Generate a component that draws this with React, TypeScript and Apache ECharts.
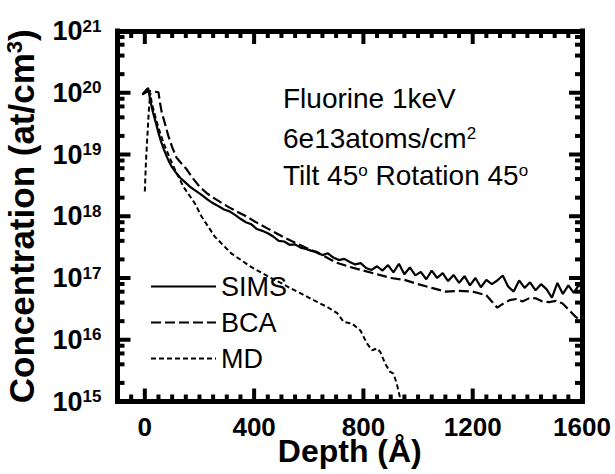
import React, { useEffect, useRef } from 'react';
import * as echarts from 'echarts';

const FONT = '"Liberation Sans", Arial, Helvetica, sans-serif';

const X_MIN = -100;
const X_MAX = 1600;
const Y_MIN = 1e15;
const Y_MAX = 1e21;

const xMajorTicks = [0, 400, 800, 1200, 1600];
const xMinorTicks = [-50, 50, 100, 150, 200, 250, 300, 350, 450, 500, 550, 600, 650, 700, 750, 850, 900, 950, 1000, 1050, 1100, 1150, 1250, 1300, 1350, 1400, 1450, 1500, 1550];
const yMajorTicks = [1e15, 1e16, 1e17, 1e18, 1e19, 1e20, 1e21];
const yMinorTicks = [
  2e15, 4e15, 6e15, 8e15, 2e16, 4e16, 6e16, 8e16, 2e17, 4e17, 6e17, 8e17,
  2e18, 4e18, 6e18, 8e18, 2e19, 4e19, 6e19, 8e19, 2e20, 4e20, 6e20, 8e20,
];

const simsDepth = [-8, 12, 20, 30, 40, 50, 60, 70, 80, 90, 100, 115, 130, 150, 165, 180, 200, 215, 230, 250, 270, 290, 310, 330, 350, 370, 390, 410, 430, 450, 470, 490, 510, 530, 550, 570, 590, 610, 630, 650, 670, 690, 710, 730, 750, 770, 790, 810, 830, 850, 870, 890, 910, 930, 950, 970, 990, 1010, 1030, 1050, 1070, 1090, 1110, 1130, 1150, 1170, 1190, 1210, 1230, 1250, 1270, 1290, 1310, 1330, 1350, 1370, 1390, 1410, 1430, 1450, 1470, 1490, 1510, 1530, 1550, 1570, 1590, 1600];
const simsConc = [9.55e19, 1.2e20, 7.41e19, 4.79e19, 3.31e19, 2.24e19, 1.58e19, 1.2e19, 9.33e18, 7.41e18, 6.17e18, 5.01e18, 4.17e18, 3.47e18, 3.02e18, 2.69e18, 2.34e18, 2.09e18, 1.86e18, 1.62e18, 1.45e18, 1.29e18, 1.2e18, 1.05e18, 9.1e17, 8.0e17, 7.4e17, 6.2e17, 5.8e17, 5.3e17, 4.7e17, 4.0e17, 3.9e17, 3.45e17, 3.5e17, 3.1e17, 2.95e17, 2.75e17, 2.65e17, 2.35e17, 2.51e17, 2.14e17, 1.95e17, 2.04e17, 1.82e17, 1.66e17, 1.74e17, 1.45e17, 1.35e17, 1.55e17, 1.32e17, 1.62e17, 1.23e17, 1.7e17, 1.15e17, 1.48e17, 1.1e17, 1.26e17, 9.55e16, 1.32e17, 1.0e17, 1.2e17, 8.91e16, 1.12e17, 8.32e16, 1.07e17, 7.59e16, 1.0e17, 7.08e16, 9.33e16, 7.94e16, 9.12e16, 1.1e17, 7.24e16, 6.03e16, 9.12e16, 6.92e16, 8.51e16, 6.31e16, 7.94e16, 6.61e16, 4.79e16, 8.32e16, 5.5e16, 7.59e16, 5.75e16, 7.94e16, 6.61e16];

const bcaDepth = [-10, 13, 50, 55, 62, 75, 86, 100, 116, 135, 153, 175, 200, 225, 250, 280, 310, 340, 371, 400, 450, 500, 550, 600, 650, 700, 750, 800, 850, 900, 950, 1000, 1050, 1100, 1150, 1200, 1250, 1270, 1290, 1310, 1335, 1360, 1382, 1410, 1431, 1455, 1480, 1505, 1528, 1553, 1577, 1600];
const bcaConc = [9.33e19, 1.07e20, 1.02e20, 7.08e19, 4.79e19, 3.02e19, 2.0e19, 1.32e19, 8.91e18, 7.08e18, 5.75e18, 4.17e18, 3.02e18, 2.4e18, 2.0e18, 1.66e18, 1.38e18, 1.17e18, 1.0e18, 8.32e17, 6.31e17, 4.79e17, 3.72e17, 2.95e17, 2.34e17, 1.78e17, 1.51e17, 1.32e17, 1.15e17, 1.0e17, 9.33e16, 7.94e16, 6.92e16, 6.03e16, 6.17e16, 6.03e16, 5.25e16, 4.17e16, 3.31e16, 3.8e16, 4.37e16, 4.57e16, 4.17e16, 4.79e16, 4.68e16, 4.17e16, 4.07e16, 4.27e16, 3.89e16, 3.02e16, 2.34e16, 2.0e16];

const mdDepth = [0, 4, 10, 15, 20, 25, 44, 68, 104, 141, 183, 207, 256, 316, 389, 462, 498, 535, 571, 618, 668, 704, 728, 759, 789, 813, 832, 850, 862, 880, 898, 910, 922, 932, 940];
const mdConc = [2.51e18, 7.41e18, 2.24e19, 5.37e19, 1.0e20, 6.92e19, 3.31e19, 1.55e19, 6.46e18, 3.02e18, 1.62e18, 1.0e18, 4.68e17, 2.51e17, 1.51e17, 1.0e17, 8.32e16, 6.76e16, 5.62e16, 4.37e16, 3.39e16, 2.69e16, 1.95e16, 1.82e16, 1.41e16, 8.71e15, 6.76e15, 7.24e15, 6.31e15, 4.07e15, 3.02e15, 2.82e15, 1.95e15, 1.26e15, 7.94e14];

const zip = (xs: number[], ys: number[]) => xs.map((x, i) => [x, ys[i]]);

const TICK_STYLE = { stroke: '#000', lineWidth: 4 };

export default function App() {
  const ref = useRef<HTMLDivElement>(null);
  useEffect(() => {
    if (!ref.current) return;
    const chart = echarts.init(ref.current, null, { renderer: 'svg' });
    // each item: [x, y, side, length]; side 0 bottom, 1 top, 2 left, 3 right
    const tickData: number[][] = [];
    xMajorTicks.forEach((v) => { tickData.push([v, Y_MIN, 0, 13]); tickData.push([v, Y_MAX, 1, 13]); });
    xMinorTicks.forEach((v) => { tickData.push([v, Y_MIN, 0, 7]); tickData.push([v, Y_MAX, 1, 7]); });
    yMajorTicks.forEach((v) => { tickData.push([X_MIN, v, 2, 13]); tickData.push([X_MAX, v, 3, 13]); });
    yMinorTicks.forEach((v) => { tickData.push([X_MIN, v, 2, 7]); tickData.push([X_MAX, v, 3, 7]); });

    const frameLine = { show: true, onZero: false, lineStyle: { color: '#000', width: 5, cap: 'square' } };
    const noLabel = { show: false };
    const rich = (main: number, sup: number) => ({
      n: { fontFamily: FONT, fontSize: main, lineHeight: main, fill: '#000', verticalAlign: 'bottom' },
      s: { fontFamily: FONT, fontSize: sup, lineHeight: sup, fill: '#000', verticalAlign: 'top' },
    });
    chart.setOption({
      animation: false,
      backgroundColor: '#fff',
      grid: {
        left: 117.5,
        right: 33,
        top: 31,
        bottom: 72.5,
        containLabel: false,
        outerBoundsMode: 'none',
      },
      xAxis: [
        {
          type: 'value',
          min: X_MIN,
          max: X_MAX,
          interval: 100,
          position: 'bottom',
          axisLine: frameLine,
          axisTick: { show: false },
          splitLine: { show: false },
          axisLabel: {
            margin: 12,
            color: '#000',
            fontFamily: FONT,
            fontWeight: 'bold',
            fontSize: 26,
            formatter: (v: number) => (xMajorTicks.includes(v) ? String(v) : ''),
          },
          name: 'Depth (Å)',
          nameLocation: 'middle',
          nameGap: 33,
          nameMoveOverlap: false,
          nameTextStyle: { color: '#000', fontFamily: FONT, fontWeight: 'bold', fontSize: 32, lineHeight: 32 },
        },
        {
          type: 'value',
          min: X_MIN,
          max: X_MAX,
          interval: 100,
          position: 'top',
          axisLine: frameLine,
          axisTick: { show: false },
          splitLine: { show: false },
          axisLabel: noLabel,
        },
      ],
      yAxis: [
        {
          type: 'log',
          logBase: 10,
          min: Y_MIN,
          max: Y_MAX,
          splitNumber: 6,
          position: 'left',
          axisLine: frameLine,
          axisTick: { show: false },
          splitLine: { show: false },
          minorTick: { show: false },
          axisLabel: {
            margin: 16,
            formatter: (v: number) => `{b|10}{s|${Math.round(Math.log10(v))}}`,
            rich: {
              b: { fontFamily: FONT, fontWeight: 'bold', fontSize: 27, lineHeight: 27, color: '#000', verticalAlign: 'bottom' },
              s: { fontFamily: FONT, fontWeight: 'bold', fontSize: 17, lineHeight: 17, color: '#000', verticalAlign: 'top', padding: [0, 0, 15, 0] },
            },
          },
          name: '{a|Concentration (at/cm}{s|3}{a|)}',
          nameLocation: 'middle',
          nameGap: 70,
          nameTextStyle: {
            rich: {
              a: { fontFamily: FONT, fontWeight: 'bold', fontSize: 35, lineHeight: 35, color: '#000', verticalAlign: 'bottom' },
              s: { fontFamily: FONT, fontWeight: 'bold', fontSize: 22, lineHeight: 22, color: '#000', verticalAlign: 'top', padding: [0, 0, 16, 0] },
            },
          },
        },
        {
          type: 'log',
          logBase: 10,
          min: Y_MIN,
          max: Y_MAX,
          splitNumber: 6,
          position: 'right',
          axisLine: frameLine,
          axisTick: { show: false },
          splitLine: { show: false },
          minorTick: { show: false },
          axisLabel: noLabel,
        },
      ],
      legend: {
        data: ['SIMS', 'BCA', 'MD'],
        orient: 'vertical',
        left: 145,
        top: 268,
        itemWidth: 65,
        itemHeight: 4,
        itemGap: 9,
        itemStyle: { opacity: 0 },
        textStyle: { color: '#000', fontFamily: FONT, fontSize: 27, lineHeight: 27 },
      },
      graphic: [
        {
          type: 'text',
          x: 283,
          y: 98.5,
          style: { text: '{n|Fluorine 1keV}', verticalAlign: 'middle', rich: rich(28, 17) },
        },
        {
          type: 'text',
          x: 283,
          y: 138.5,
          style: { text: '{n|6e13atoms/cm}{s|2}', verticalAlign: 'middle', rich: rich(28, 17) },
        },
        {
          type: 'text',
          x: 283,
          y: 175.5,
          style: { text: '{n|Tilt 45}{s|o}{n| Rotation 45}{s|o}', verticalAlign: 'middle', rich: rich(28, 17) },
        },
      ],
      series: [
        {
          type: 'custom',
          name: 'ticks',
          coordinateSystem: 'cartesian2d',
          xAxisIndex: 0,
          yAxisIndex: 0,
          silent: true,
          clip: false,
          z: 5,
          data: tickData,
          renderItem: (_params: any, api: any) => {
            const side = api.value(2);
            const len = api.value(3);
            const p = api.coord([api.value(0), api.value(1)]);
            let x2 = p[0];
            let y2 = p[1];
            if (side === 0) y2 = p[1] - len;
            else if (side === 1) y2 = p[1] + len;
            else if (side === 2) x2 = p[0] + len;
            else x2 = p[0] - len;
            return { type: 'line', shape: { x1: p[0], y1: p[1], x2, y2 }, style: TICK_STYLE };
          },
        },
        {
          name: 'SIMS',
          type: 'line',
          data: zip(simsDepth, simsConc),
          symbol: 'none',
          showSymbol: false,
          z: 3,
          itemStyle: { color: '#000' },
          lineStyle: { color: '#000', width: 2.2 },
        },
        {
          name: 'BCA',
          type: 'line',
          data: zip(bcaDepth, bcaConc),
          symbol: 'none',
          showSymbol: false,
          z: 3,
          itemStyle: { color: '#000' },
          lineStyle: { color: '#000', width: 2.2, type: [10, 4] },
        },
        {
          name: 'MD',
          type: 'line',
          data: zip(mdDepth, mdConc),
          symbol: 'none',
          showSymbol: false,
          z: 3,
          itemStyle: { color: '#000' },
          lineStyle: { color: '#000', width: 2, type: [5, 3] },
        },
      ],
    });
    return () => chart.dispose();
  }, []);
  return <div ref={ref} style={{ width: 615, height: 474, position: 'absolute', left: 0, top: 0 }} />;
}
